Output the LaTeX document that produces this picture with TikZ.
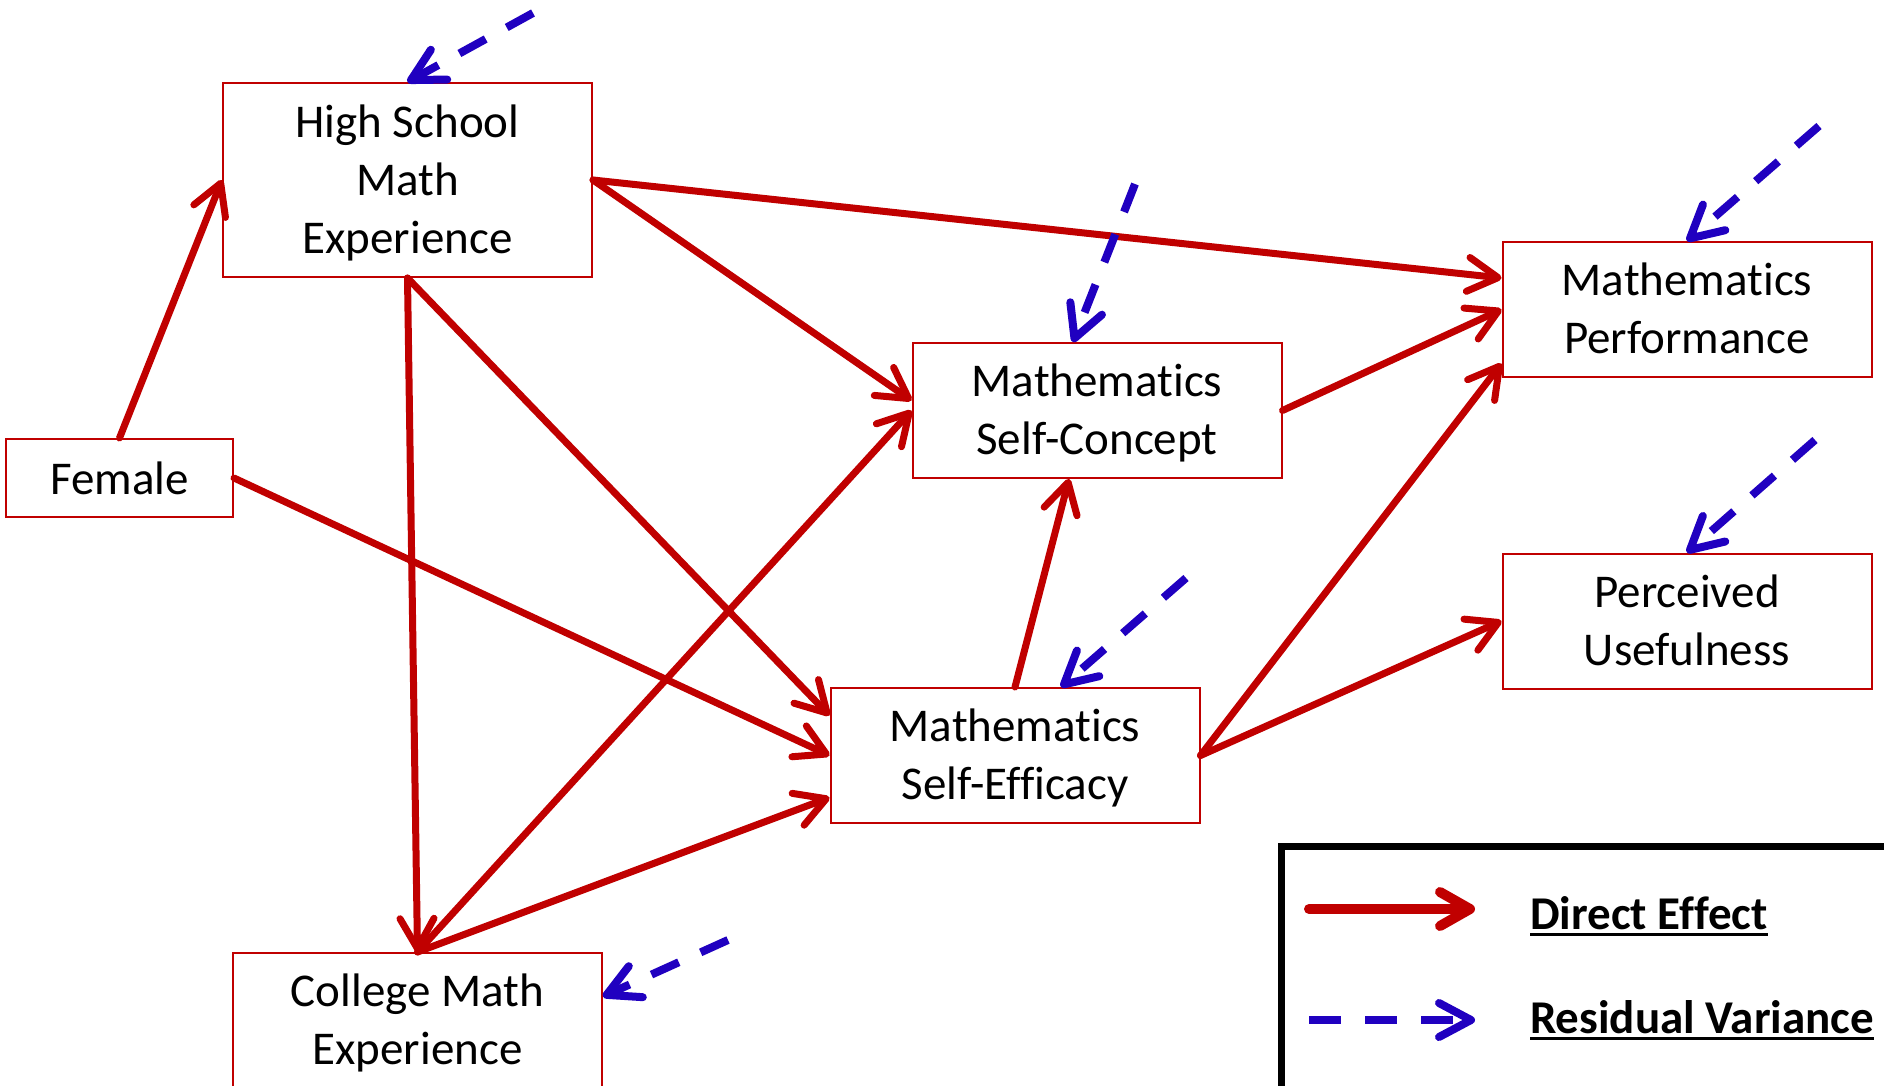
\documentclass[tikz,border=0pt]{standalone}
\usepackage{fontspec}
\setmainfont{Carlito}[Ligatures={NoCommon,NoContextual,TeX}, Contextuals=NoAlternate]
\usepackage{tikz}
\usetikzlibrary{arrows.meta}

\definecolor{effred}{RGB}{192,0,0}
\definecolor{resblue}{RGB}{32,0,192}
% thick underline for the key
\newcommand{\keyul}[1]{\vtop{\hbox{#1}\kern2pt\hrule height 1.5pt}}
% fixed room above the first line and below the last one
\newcommand{\boxtop}{\rule{0pt}{20pt}}
\newcommand{\boxbot}{\rule[-5pt]{0pt}{5pt}}

\begin{document}
\begin{tikzpicture}[x=0.5pt, y=-0.5pt,
    var/.style={draw=effred, line width=1pt, align=center, inner sep=0pt,
                minimum width=184.5pt, minimum height=67.5pt,
                font=\fontsize{23.5}{29}\selectfont},
    eff/.style={draw=effred, line width=3.5pt, line cap=round,
                -{Straight Barb[length=15pt, width=17pt, round]}},
    res/.style={draw=resblue, line width=4pt, dash pattern=on 15pt off 12pt,
                -{Straight Barb[length=16pt, width=17pt, round]}},
    key/.style={font=\fontsize{23.5}{29}\selectfont\bfseries, anchor=base west}
  ]
  \useasboundingbox (0,0) rectangle (1884,1086);
  \clip (0,0) rectangle (1884,1086);

  \node[var, minimum height=97pt]  (hs)  at (407.5,180)   {\boxtop High School\\Math\\Experience\boxbot};
  \node[var, minimum width=113.5pt, minimum height=39pt] (fem) at (119.5,478) {Female};
  \node[var] (cm)  at (417.5,1020.5) {\boxtop College Math\\Experience\boxbot};
  \node[var] (sc)  at (1097,410.5)   {\boxtop Mathematics\\Self-Concept\boxbot};
  \node[var] (se)  at (1015,755.5)   {\boxtop Mathematics\\Self-Efficacy\boxbot};
  \node[var] (pf)  at (1687,309.5)   {\boxtop Mathematics\\Performance\boxbot};
  \node[var] (pu)  at (1687,621)     {\boxtop Perceived\\Usefulness\boxbot};

  % direct effects
  \draw[eff] (fem.north) -- (hs.west);
  \draw[eff] (fem.east) -- (se.west);
  \draw[eff] (hs.east) -- ([yshift=15.75pt]pf.west);
  \draw[eff] (hs.east) -- ([yshift=5pt]sc.west);
  \draw[eff] (hs.south) -- (cm.north);
  \draw[eff] (hs.south) -- ([yshift=20pt]se.west);
  \draw[eff] (cm.north) -- (sc.west);
  \draw[eff] (cm.north) -- ([yshift=-21pt]se.west);
  \draw[eff] (se.north) -- ([xshift=-14pt]sc.south);
  \draw[eff] (sc.east) -- (pf.west);
  \draw[eff] (se.east) -- ([yshift=-27pt]pf.west);
  \draw[eff] (se.east) -- (pu.west);

  % residual variances
  \coordinate (rhs) at (533,13);
  \coordinate (rsc) at (1135,184);
  \coordinate (rpf) at (1819,126);
  \coordinate (rpu) at (1815,440);
  \coordinate (rse) at (1186,578);
  \coordinate (rcm) at (728,940);
  \draw[res] (rhs) -- (hs.north);
  \draw[res] (rsc) -- ([xshift=-12pt]sc.north);
  \draw[res] (rpf) -- (pf.north);
  \draw[res] (rpu) -- (pu.north);
  \draw[res] (rse) -- ([xshift=23pt]se.north);
  \draw[res] (rcm) -- ([yshift=12pt]cm.east);

  % legend
  \draw[line width=3.5pt] (1281,846) rectangle (1920,1120);
  \coordinate (ka) at (1309,909);
  \coordinate (kb) at (1475,909);
  \coordinate (kc) at (1309,1020);
  \coordinate (kd) at (1475,1020);
  \draw[eff, line width=5pt] (ka) -- (kb);
  \draw[res, dash pattern=on 16pt off 12pt] (kc) -- (kd);
  \node[key] (kdir) at (1523,929)  {\keyul{Direct Effect}};
  \node[key] (kres) at (1523,1033) {\keyul{Residual Variance}};
\end{tikzpicture}
\end{document}
